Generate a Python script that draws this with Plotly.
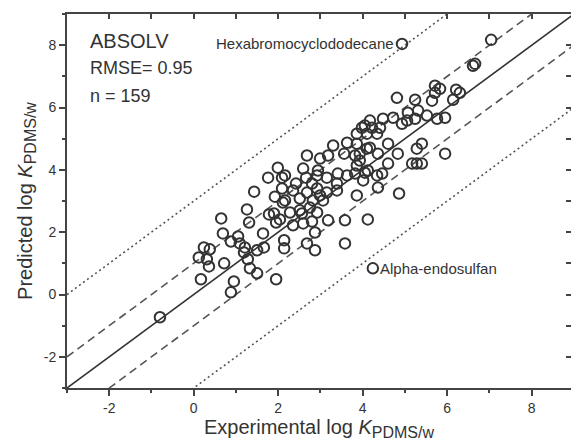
import plotly.graph_objects as go

# Experimental vs predicted log K(PDMS/w) values
exp_logK = [
    -0.80, 0.12, 0.17, 0.24, 0.38, 0.31, 0.36, 0.65, 0.69, 0.72,
    0.88, 0.88, 0.95, 1.05, 1.09, 1.21, 1.19, 1.28, 1.33, 1.50,
    1.50, 1.64, 1.66, 1.95, 1.26, 1.31, 1.78, 1.90, 1.95, 1.43,
    1.76, 1.99, 2.09, 2.09, 1.92, 2.11, 2.04, 2.28, 2.35, 2.14,
    2.14, 2.42, 2.51, 2.51, 2.16, 2.35, 2.16, 2.59, 2.66, 2.68,
    2.68, 2.92, 2.99, 3.15, 3.39, 2.82, 3.06, 2.80, 2.94, 2.92,
    3.15, 3.41, 3.63, 3.82, 4.05, 3.86, 4.01, 3.39, 2.99, 3.18,
    3.30, 3.63, 3.86, 3.56, 3.82, 4.10, 4.05, 3.86, 2.56, 2.59,
    2.75, 2.80, 2.87, 2.92, 3.18, 3.58, 3.58, 2.87, 2.68, 4.34,
    4.46, 4.12, 4.36, 4.86, 4.12, 4.60, 5.17, 5.28, 5.40, 3.93,
    4.83, 5.28, 5.40, 5.95, 3.93, 4.36, 4.17, 4.60, 3.86, 4.10,
    4.34, 3.98, 4.22, 4.41, 4.17, 4.48, 4.72, 4.93, 5.05, 5.07,
    5.24, 5.31, 5.52, 5.76, 5.95, 4.81, 5.24, 5.64, 5.71, 5.83,
    5.71, 6.21, 6.30, 6.14, 6.61, 6.66, 7.04,
]
pred_logK = [
    -0.73, 1.19, 0.49, 1.51, 1.45, 1.13, 0.90, 2.44, 1.96, 1.00,
    1.70, 0.07, 0.42, 1.86, 1.64, 1.51, 1.35, 1.13, 0.84, 0.68,
    1.42, 1.96, 1.51, 0.49, 2.73, 2.31, 2.57, 2.60, 2.31, 3.30,
    3.75, 4.07, 3.75, 3.40, 3.14, 2.95, 2.41, 2.63, 2.22, 1.74,
    1.48, 3.56, 3.08, 2.70, 3.82, 3.34, 3.02, 4.04, 3.75, 4.46,
    3.27, 3.40, 3.18, 3.27, 3.34, 3.02, 3.02, 3.56, 3.98, 3.82,
    3.75, 3.88, 3.82, 3.88, 3.91, 4.14, 3.66, 3.56, 4.36, 4.46,
    4.78, 4.87, 4.84, 4.52, 4.46, 4.68, 5.42, 3.18, 2.60, 2.28,
    2.79, 2.34, 1.99, 2.63, 2.38, 2.38, 1.64, 1.42, 1.64, 3.82,
    3.88, 3.98, 3.43, 3.24, 2.41, 4.20, 4.20, 4.20, 4.20, 4.30,
    4.52, 4.68, 4.84, 4.52, 4.52, 4.52, 4.71, 4.84, 5.16, 5.16,
    5.16, 5.35, 5.35, 5.35, 5.58, 5.64, 5.67, 5.48, 5.58, 5.83,
    5.64, 5.90, 5.74, 5.64, 5.67, 6.31, 6.25, 6.22, 6.47, 6.60,
    6.70, 6.57, 6.47, 6.25, 7.34, 7.40, 8.17,
]

# Labelled outliers
label_names = ["Hexabromocyclododecane", "Alpha-endosulfan"]
label_exp = [4.93, 4.24]
label_pred = [8.04, 0.84]

# Tick labels (hyphen minus as in the reference)
tick_vals = [-2, 0, 2, 4, 6, 8]
tick_text = ["-2", "0", "2", "4", "6", "8"]
minor_vals = [-3, -1, 1, 3, 5, 7, 9]

# Reference lines y = x + offset
line_offsets = [0, 1, -1, 3, -3]
line_dashes = ["solid", "8px,5px", "8px,5px", "2px,3px", "2px,3px"]
line_x = [-3, 9]

x_range = [-3, 8.93]
y_range = [-3, 9]

AX = "#444444"
MK = "#333333"
TXT = "#333333"
FONT = "Liberation Sans, Arial, sans-serif"

fig = go.Figure()

for off, dash in zip(line_offsets, line_dashes):
    fig.add_trace(go.Scatter(
        x=line_x, y=[v + off for v in line_x], mode="lines",
        line=dict(color="#333333" if off == 0 else "#555555", width=1.6, dash=dash),
        hoverinfo="skip", showlegend=False,
    ))

fig.add_trace(go.Scatter(
    x=exp_logK + label_exp, y=pred_logK + label_pred, mode="markers",
    marker=dict(symbol="circle-open", size=10.5, color=MK, line=dict(width=2, color=MK)),
    showlegend=False,
))

# dummy trace for overlay axes (top / right inward ticks)
fig.add_trace(go.Scatter(x=[None], y=[None], xaxis="x2", yaxis="y2", showlegend=False))

sub_title = lambda s: s + ' log <i>K</i><sub><span style="font-size:16px">PDMS/w</span></sub>'

common_axis = dict(
    tickmode="array", tickvals=tick_vals, ticktext=tick_text,
    ticks="outside", ticklen=6, tickwidth=1.5, tickcolor=AX,
    showline=True, linecolor=AX, linewidth=2, showgrid=False, zeroline=False,
    tickfont=dict(size=14, color=TXT),
    minor=dict(tickmode="array", tickvals=minor_vals, ticks="outside", ticklen=3,
               tickwidth=1.5, tickcolor=AX, showgrid=False),
)

fig.update_layout(
    width=571, height=446, autosize=False,
    margin=dict(l=67, r=0, t=14, b=58),
    paper_bgcolor="white", plot_bgcolor="white",
    font=dict(family=FONT, color=TXT),
    showlegend=False,
    xaxis=dict(range=x_range, **common_axis,
               title=dict(text=sub_title("Experimental"), font=dict(size=20, color=TXT), standoff=4)),
    yaxis=dict(range=y_range, **common_axis,
               title=dict(text=sub_title("Predicted"), font=dict(size=20, color=TXT), standoff=6)),
    xaxis2=dict(
        overlaying="x", side="top", anchor="y2", range=x_range, tick0=0, dtick=1,
        ticks="inside", ticklen=5, tickwidth=1.5, tickcolor=AX, showticklabels=False,
        showline=True, linecolor=AX, linewidth=2, showgrid=False, zeroline=False,
    ),
    yaxis2=dict(
        overlaying="y", side="right", anchor="x2", range=y_range, tick0=0, dtick=1,
        ticks="inside", ticklen=5, tickwidth=1.5, tickcolor=AX, showticklabels=False,
        showline=False, showgrid=False, zeroline=False,
    ),
)

fig.add_annotation(text="ABSOLV", xref="paper", yref="paper", x=0.042, y=0.928,
                   xanchor="left", yanchor="middle", showarrow=False, font=dict(size=20, color=TXT))
fig.add_annotation(text="RMSE= 0.95", xref="paper", yref="paper", x=0.042, y=0.856,
                   xanchor="left", yanchor="middle", showarrow=False, font=dict(size=18, color=TXT))
fig.add_annotation(text="n = 159", xref="paper", yref="paper", x=0.042, y=0.781,
                   xanchor="left", yanchor="middle", showarrow=False, font=dict(size=18, color=TXT))

fig.add_annotation(text=label_names[0], x=label_exp[0], y=label_pred[0], xref="x", yref="y",
                   xanchor="right", yanchor="middle", xshift=-6, showarrow=False,
                   font=dict(size=15, color=TXT))
fig.add_annotation(text=label_names[1], x=label_exp[1], y=label_pred[1], xref="x", yref="y",
                   xanchor="left", yanchor="middle", xshift=5, showarrow=False,
                   font=dict(size=15, color=TXT))

fig.write_html("out.html")
